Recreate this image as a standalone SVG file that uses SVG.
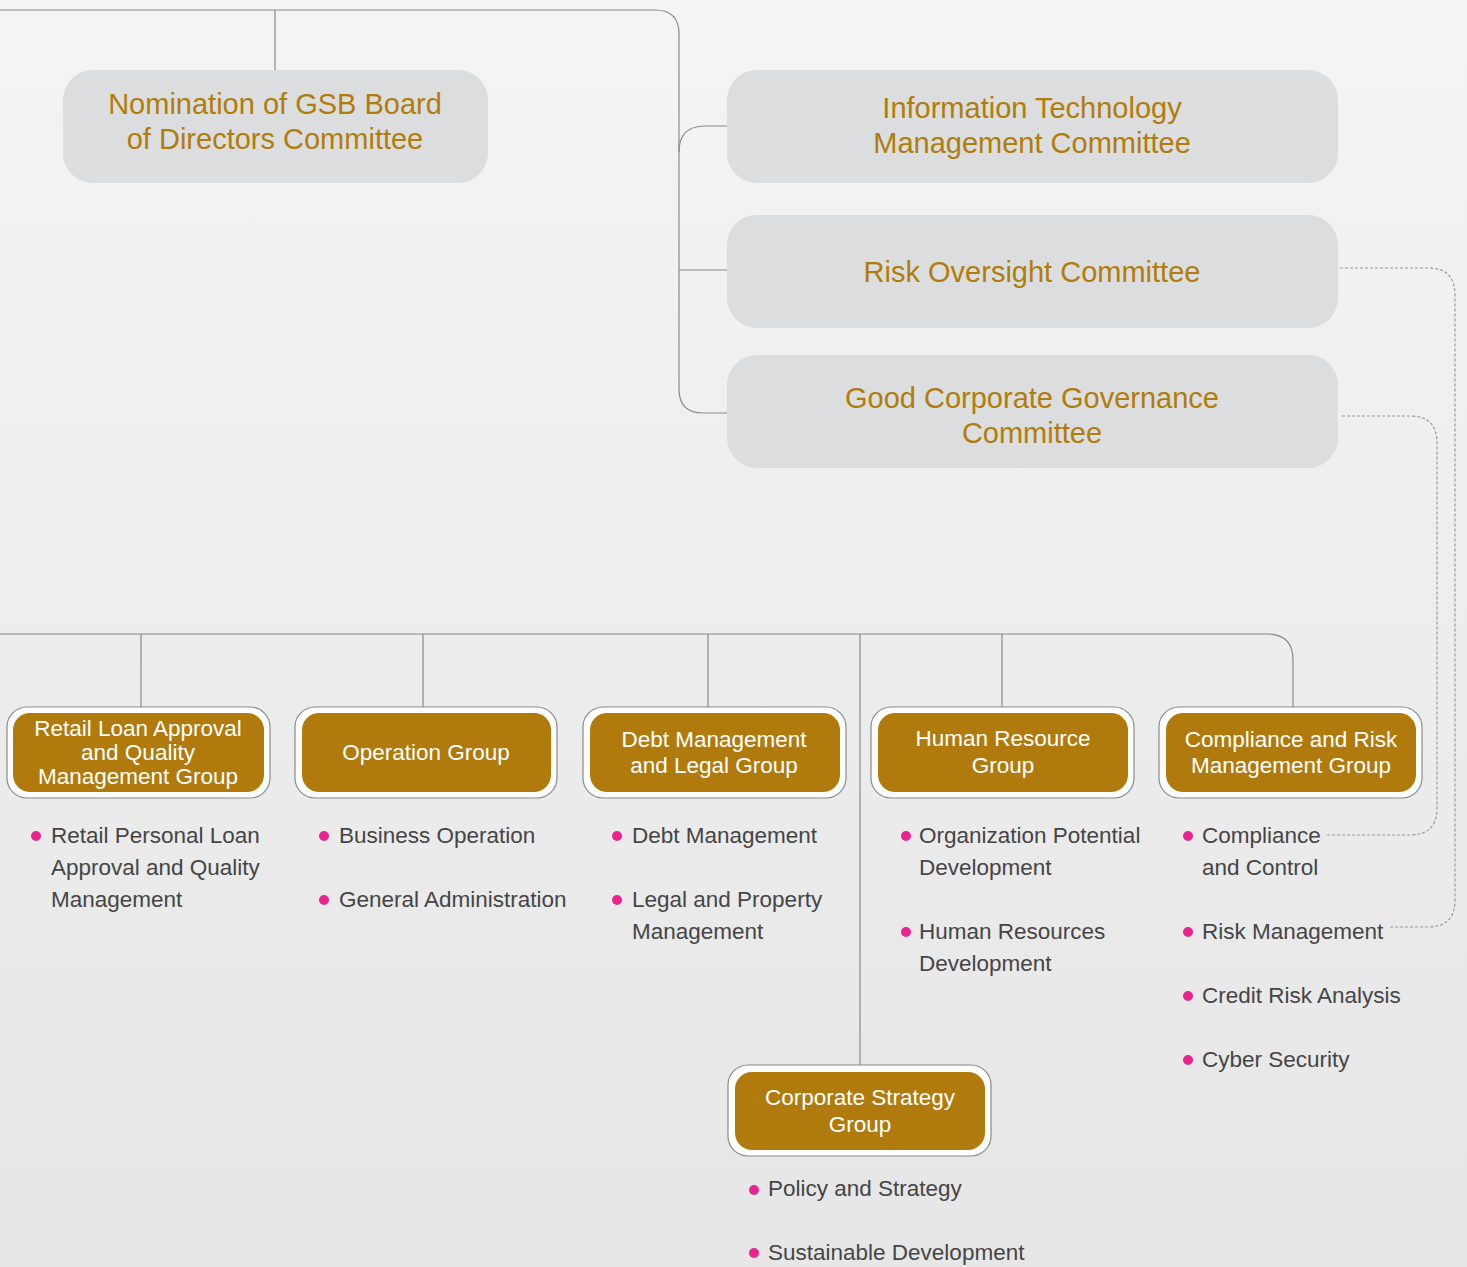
<svg xmlns="http://www.w3.org/2000/svg" width="1467" height="1267" viewBox="0 0 1467 1267">
<defs>
<linearGradient id="bg" x1="0" y1="0" x2="0" y2="1">
<stop offset="0" stop-color="#f4f4f4"/>
<stop offset="1" stop-color="#e6e6e6"/>
</linearGradient>
<style>
.com{fill:#dcdddf}
.ct{font-family:"Liberation Sans",Arial,sans-serif;font-size:29px;fill:#b07c0a;text-anchor:middle}
.outer{fill:#ffffff;stroke:#8a8a8a;stroke-width:1.2}
.inner{fill:#b07b0c}
.gt{font-family:"Liberation Sans",Arial,sans-serif;font-size:22.5px;fill:#ffffff;text-anchor:middle}
.bt{font-family:"Liberation Sans",Arial,sans-serif;font-size:22.5px;fill:#454545}
.dot{fill:#e9238f}
.ln{fill:none;stroke:#8a8a8a;stroke-width:1.2}
.dl{fill:none;stroke:#9a9a9a;stroke-width:1.2;stroke-dasharray:3 2}
</style>
</defs>
<rect x="0" y="0" width="1467" height="1267" fill="url(#bg)"/>

<g id="connectors">
<path class="ln" d="M0 10 H655 Q679 10 679 34 V389 Q679 413 703 413 H727"/>
<path class="ln" d="M275 10 V70"/>
<path class="ln" d="M679 152 Q679 126 705 126 H727"/>
<path class="ln" d="M679 270 H727"/>
<path class="ln" d="M0 634 H1267 Q1293 634 1293 660 V707"/>
<path class="ln" d="M141 634 V707 M423 634 V707 M708 634 V707 M1002 634 V707 M860 634 V1066"/>
<path class="dl" d="M1340 268 H1428 Q1455 268 1455 295 V900 Q1455 927 1428 927 H1390"/>
<path class="dl" d="M1342 416 H1410 Q1437 416 1437 443 V808 Q1437 835 1410 835 H1327"/>
</g>

<g id="nomination">
<rect class="com" x="63" y="70" width="425" height="113" rx="30"/>
<text class="ct" x="275" y="114">Nomination of GSB Board</text>
<text class="ct" x="275" y="149">of Directors Committee</text>
</g>
<g id="it-committee">
<rect class="com" x="727" y="70" width="611" height="113" rx="30"/>
<text class="ct" x="1032" y="118">Information Technology</text>
<text class="ct" x="1032" y="153">Management Committee</text>
</g>
<g id="risk-committee">
<rect class="com" x="727" y="215" width="611" height="113" rx="30"/>
<text class="ct" x="1032" y="282">Risk Oversight Committee</text>
</g>
<g id="gcg-committee">
<rect class="com" x="727" y="355" width="611" height="113" rx="30"/>
<text class="ct" x="1032" y="408">Good Corporate Governance</text>
<text class="ct" x="1032" y="443">Committee</text>
</g>

<g id="retail-group">
<rect class="outer" x="7" y="707" width="263" height="91" rx="20"/>
<rect class="inner" x="13" y="713" width="251" height="79" rx="17"/>
<text class="gt" x="138" y="736">Retail Loan Approval</text>
<text class="gt" x="138" y="760">and Quality</text>
<text class="gt" x="138" y="784">Management Group</text>
<circle class="dot" cx="36" cy="836" r="5"/>
<text class="bt" x="51" y="843">Retail Personal Loan</text>
<text class="bt" x="51" y="875">Approval and Quality</text>
<text class="bt" x="51" y="907">Management</text>
</g>

<g id="operation-group">
<rect class="outer" x="295" y="707" width="262" height="91" rx="20"/>
<rect class="inner" x="302" y="713" width="249" height="79" rx="17"/>
<text class="gt" x="426" y="760">Operation Group</text>
<circle class="dot" cx="324" cy="836" r="5"/>
<text class="bt" x="339" y="843">Business Operation</text>
<circle class="dot" cx="324" cy="900" r="5"/>
<text class="bt" x="339" y="907">General Administration</text>
</g>

<g id="debt-group">
<rect class="outer" x="583" y="707" width="263" height="91" rx="20"/>
<rect class="inner" x="590" y="713" width="250" height="79" rx="17"/>
<text class="gt" x="714" y="747">Debt Management</text>
<text class="gt" x="714" y="773">and Legal Group</text>
<circle class="dot" cx="617" cy="836" r="5"/>
<text class="bt" x="632" y="843">Debt Management</text>
<circle class="dot" cx="617" cy="900" r="5"/>
<text class="bt" x="632" y="907">Legal and Property</text>
<text class="bt" x="632" y="939">Management</text>
</g>

<g id="hr-group">
<rect class="outer" x="871" y="707" width="263" height="91" rx="20"/>
<rect class="inner" x="878" y="713" width="250" height="79" rx="17"/>
<text class="gt" x="1003" y="746">Human Resource</text>
<text class="gt" x="1003" y="773">Group</text>
<circle class="dot" cx="906" cy="836" r="5"/>
<text class="bt" x="919" y="843">Organization Potential</text>
<text class="bt" x="919" y="875">Development</text>
<circle class="dot" cx="906" cy="932" r="5"/>
<text class="bt" x="919" y="939">Human Resources</text>
<text class="bt" x="919" y="971">Development</text>
</g>

<g id="compliance-group">
<rect class="outer" x="1159" y="707" width="263" height="91" rx="20"/>
<rect class="inner" x="1166" y="713" width="250" height="79" rx="17"/>
<text class="gt" x="1291" y="747">Compliance and Risk</text>
<text class="gt" x="1291" y="773">Management Group</text>
<circle class="dot" cx="1188" cy="836" r="5"/>
<text class="bt" x="1202" y="843">Compliance</text>
<text class="bt" x="1202" y="875">and Control</text>
<circle class="dot" cx="1188" cy="932" r="5"/>
<text class="bt" x="1202" y="939">Risk Management</text>
<circle class="dot" cx="1188" cy="996" r="5"/>
<text class="bt" x="1202" y="1003">Credit Risk Analysis</text>
<circle class="dot" cx="1188" cy="1060" r="5"/>
<text class="bt" x="1202" y="1067">Cyber Security</text>
</g>

<g id="strategy-group">
<rect class="outer" x="728" y="1065" width="263" height="91" rx="20"/>
<rect class="inner" x="735" y="1072" width="250" height="78" rx="17"/>
<text class="gt" x="860" y="1105">Corporate Strategy</text>
<text class="gt" x="860" y="1132">Group</text>
<circle class="dot" cx="754" cy="1190" r="5"/>
<text class="bt" x="768" y="1196">Policy and Strategy</text>
<circle class="dot" cx="754" cy="1253" r="5"/>
<text class="bt" x="768" y="1260">Sustainable Development</text>
</g>
</svg>
